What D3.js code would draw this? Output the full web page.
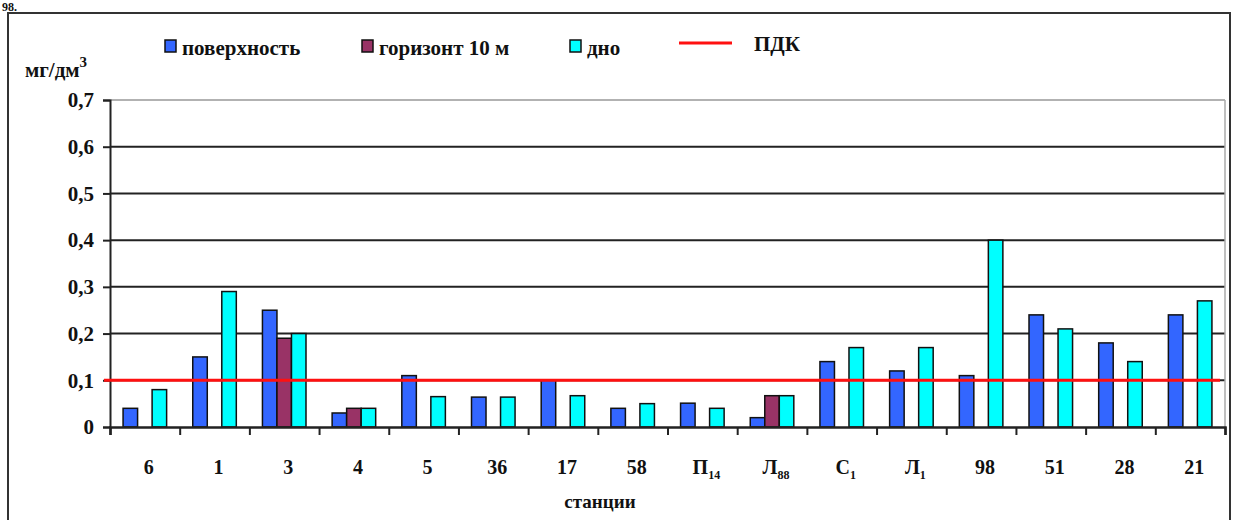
<!DOCTYPE html>
<html>
<head>
<meta charset="utf-8">
<script src="https://cdn.jsdelivr.net/npm/d3@7"></script>
<style>
  html, body { margin: 0; padding: 0; background: #fff; }
  svg { display: block; }
  text { font-family: "Liberation Serif", "DejaVu Serif", serif; font-weight: bold; fill: #111; }
</style>
</head>
<body>
<svg id="chart"></svg>
<script>
// station names: [main, subscript]
const stations = [['6',''],['1',''],['3',''],['4',''],['5',''],['36',''],['17',''],['58',''],
  ['П','14'],['Л','88'],['С','1'],['Л','1'],['98',''],['51',''],['28',''],['21','']];
const surface = [0.04, 0.15, 0.25, 0.03, 0.11, 0.064, 0.10, 0.04, 0.051, 0.02, 0.14, 0.12, 0.11, 0.24, 0.18, 0.24];
const horizon10 = [null, null, 0.19, 0.04, null, null, null, null, null, 0.067, null, null, null, null, null, null];
const bottom = [0.08, 0.29, 0.20, 0.04, 0.065, 0.064, 0.067, 0.05, 0.04, 0.067, 0.17, 0.17, 0.40, 0.21, 0.14, 0.27];
const yTicks = [0, 0.1, 0.2, 0.3, 0.4, 0.5, 0.6, 0.7];
const pdk = 0.1;

const series = [
  { name: 'поверхность', values: surface, color: '#3366ff' },
  { name: 'горизонт 10 м', values: horizon10, color: '#993366' },
  { name: 'дно', values: bottom, color: '#00ffff' }
];

const width = 1238, height = 520;
const margin = { top: 100, right: 13, bottom: 93, left: 110 };

const svg = d3.select('#chart').attr('width', width).attr('height', height);

// text fragment from the page above
svg.append('text').attr('x', 2).attr('y', 11).attr('font-size', 12).text('98.');

// outer frame
svg.append('rect')
  .attr('x', 8).attr('y', 13).attr('width', 1222).attr('height', 520)
  .attr('fill', 'none').attr('stroke', '#333').attr('stroke-width', 2);

const x = d3.scaleBand()
  .domain(d3.range(stations.length))
  .range([margin.left, width - margin.right]);

const xs = d3.scaleBand()
  .domain(d3.range(series.length))
  .range([0, x.bandwidth()])
  .paddingOuter(0.9);

const y = d3.scaleLinear()
  .domain([0, 0.7])
  .range([height - margin.bottom, margin.top]);

// gridlines
svg.append('g')
  .selectAll('line')
  .data(yTicks.filter(d => d > 0))
  .join('line')
  .attr('x1', margin.left).attr('x2', width - margin.right)
  .attr('y1', d => y(d)).attr('y2', d => y(d))
  .attr('stroke', d => d === 0.7 ? '#999' : '#222')
  .attr('stroke-width', d => d === 0.7 ? 1.5 : 2);

// right border of the plot
svg.append('line')
  .attr('x1', width - margin.right).attr('x2', width - margin.right)
  .attr('y1', y(0.7)).attr('y2', y(0))
  .attr('stroke', '#aaa').attr('stroke-width', 1.5);

// bars
series.forEach((s, si) => {
  svg.append('g')
    .selectAll('rect')
    .data(s.values.map((v, i) => ({ v, i })).filter(d => d.v != null))
    .join('rect')
    .attr('x', d => x(d.i) + xs(si))
    .attr('y', d => y(d.v))
    .attr('width', xs.bandwidth())
    .attr('height', d => y(0) - y(d.v))
    .attr('fill', s.color)
    .attr('stroke', '#111')
    .attr('stroke-width', 1.5);
});

// y axis
const yAxis = svg.append('g')
  .attr('transform', `translate(${margin.left},0)`)
  .call(d3.axisLeft(y).tickValues(yTicks).tickSize(7)
    .tickFormat(d => d === 0 ? '0' : d3.format('.1f')(d).replace('.', ',')));
yAxis.select('.domain').attr('stroke', '#222').attr('stroke-width', 2);
yAxis.selectAll('.tick line').attr('stroke', '#222').attr('stroke-width', 2);
yAxis.selectAll('text')
  .attr('font-family', '"Liberation Serif", serif')
  .attr('font-weight', 'bold')
  .attr('font-size', 21)
  .attr('fill', '#111')
  .attr('x', -16);

// x axis
const xAxis = svg.append('g')
  .attr('transform', `translate(0,${y(0)})`)
  .call(d3.axisBottom(d3.scaleLinear().domain([0, stations.length]).range([margin.left, width - margin.right]))
    .tickValues(d3.range(stations.length + 1)).tickSize(8).tickFormat(''));
xAxis.select('.domain').attr('stroke', '#222').attr('stroke-width', 2.5);
xAxis.selectAll('.tick line').attr('stroke', '#222').attr('stroke-width', 2);

// station labels
const lab = svg.append('g')
  .selectAll('text')
  .data(stations)
  .join('text')
  .attr('x', (d, i) => x(i) + x.bandwidth() / 2 + 4)
  .attr('y', 474)
  .attr('text-anchor', 'middle')
  .attr('font-size', 20);
lab.append('tspan').text(d => d[0]);
lab.append('tspan').attr('font-size', 12).attr('dy', 5).text(d => d[1]);

svg.append('text')
  .attr('x', 600).attr('y', 508)
  .attr('text-anchor', 'middle')
  .attr('font-size', 19)
  .text('станции');

// ПДК line
svg.append('line')
  .attr('x1', margin.left - 6).attr('x2', width - 18)
  .attr('y1', y(pdk)).attr('y2', y(pdk))
  .attr('stroke', '#ff1010').attr('stroke-width', 3);

// y title
const yt = svg.append('text').attr('x', 25).attr('y', 77).attr('font-size', 21);
yt.append('tspan').text('мг/дм');
yt.append('tspan').attr('font-size', 15).attr('dy', -10).text('3');

// legend
const legendItems = [
  { x: 165, s: series[0] },
  { x: 362, s: series[1] },
  { x: 570, s: series[2] }
];
const lg = svg.append('g');
legendItems.forEach(d => {
  lg.append('rect')
    .attr('x', d.x).attr('y', 40).attr('width', 11).attr('height', 12)
    .attr('fill', d.s.color).attr('stroke', '#111').attr('stroke-width', 1.5);
  lg.append('text')
    .attr('x', d.x + 17).attr('y', 55)
    .attr('font-size', 21)
    .text(d.s.name);
});
lg.append('line')
  .attr('x1', 679).attr('x2', 732).attr('y1', 43).attr('y2', 43)
  .attr('stroke', '#ff1010').attr('stroke-width', 3);
lg.append('text')
  .attr('x', 754).attr('y', 51)
  .attr('font-size', 21)
  .text('ПДК');
</script>
</body>
</html>
